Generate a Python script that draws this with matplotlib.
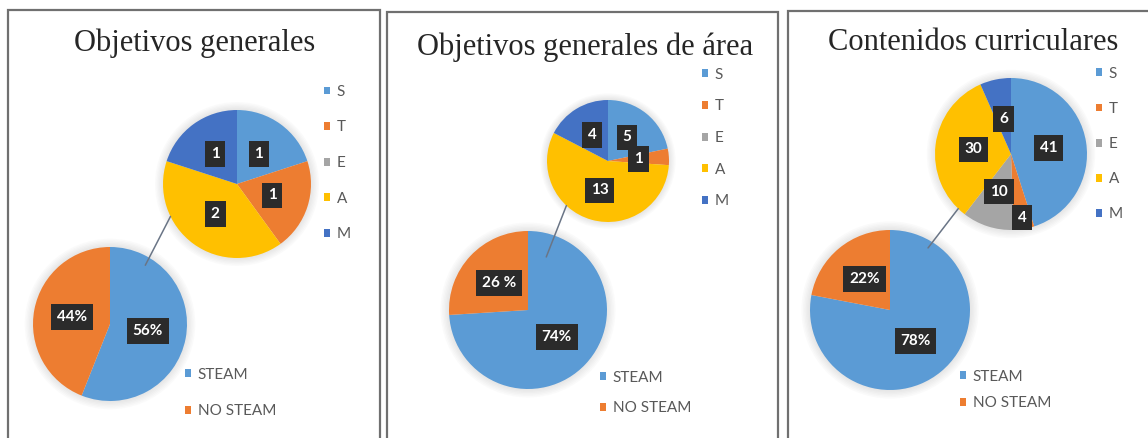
import matplotlib
matplotlib.use('Agg')
import matplotlib.pyplot as plt
from matplotlib.patches import Patch, ConnectionPatch, Circle
import numpy as np

# ---------------- data ----------------
titles = ['Objetivos generales', 'Objetivos generales de área', 'Contenidos curriculares']
area_cats = ['S', 'T', 'E', 'A', 'M']
og_counts = [1, 1, 0, 2, 1]
oga_counts = [5, 1, 0, 13, 4]
cc_counts = [41, 4, 10, 30, 6]
steam_cats = ['STEAM', 'NO STEAM']
og_pct = [56, 44]
oga_pct = [74, 26]
cc_pct = [78, 22]
og_pct_labels = ['56%', '44%']
oga_pct_labels = ['74%', '26 %']
cc_pct_labels = ['78%', '22%']

# ---------------- style ----------------
area_colors = ['#5B9BD5', '#ED7D31', '#A5A5A5', '#FFC000', '#4472C4']
steam_colors = ['#5B9BD5', '#ED7D31']
W, H = 1148, 438

fig = plt.figure(figsize=(W / 100, H / 100), dpi=100)
fig.patch.set_facecolor('white')

bg = fig.add_axes([0, 0, 1, 1], zorder=0)
bg.set_xlim(0, W)
bg.set_ylim(H, 0)
bg.axis('off')

border_col = '#707070'
# panel frames (left, right, top)
for (l, r, t) in [(8, 380, 10), (387, 778, 12), (788, 1160, 11)]:
    bg.plot([l, l, r, r], [H + 5, t, t, H + 5], color=border_col, lw=1.6, solid_joinstyle='miter')


def px_axes(cx, cy, r):
    ax = fig.add_axes([(cx - r) / W, 1 - (cy + r) / H, 2 * r / W, 2 * r / H], zorder=2)
    return ax


def draw_pie(ax, vals, colors, labels, dists):
    # soft halo around the pie
    for k in range(1, 7):
        ax.add_patch(Circle((0, 0), 1 + k * 0.018, fc='#b0b0b0', ec='none',
                            alpha=0.05, clip_on=False, zorder=0))
    wedges, _ = ax.pie(vals, colors=colors, startangle=90, counterclock=False,
                       radius=1, wedgeprops=dict(linewidth=0, zorder=2))
    ax.set_xlim(-1, 1)
    ax.set_ylim(-1, 1)
    ax.set_aspect('equal')
    ax.axis('off')
    for w, lab, d in zip(wedges, labels, dists):
        if not lab:
            continue
        ang = np.deg2rad((w.theta1 + w.theta2) / 2)
        ax.text(d * np.cos(ang), d * np.sin(ang), lab, ha='center', va='center',
                color='white', fontsize=11, fontweight='bold', family='Lato',
                bbox=dict(boxstyle='square,pad=0.38', fc='#2b2b2b', ec='none'),
                clip_on=False, zorder=5)
    return wedges


def legend(names, colors, x_left, y_mid, ls):
    handles = [Patch(facecolor=c, edgecolor='none') for c in colors]
    fig.legend(handles, names, loc='center left',
               bbox_to_anchor=(x_left / W, 1 - y_mid / H), frameon=False,
               prop={'family': 'Lato', 'size': 11}, labelcolor='#595959',
               handlelength=0.42, handleheight=0.42, handletextpad=0.4,
               labelspacing=ls, borderpad=0, borderaxespad=0)


def connector(ax_s, ang_s, d_s, ax_b, ang_b, d_b):
    a1, a2 = np.deg2rad(ang_s), np.deg2rad(ang_b)
    con = ConnectionPatch(xyA=(d_s * np.cos(a1), d_s * np.sin(a1)), coordsA=ax_s.transData,
                          xyB=(d_b * np.cos(a2), d_b * np.sin(a2)), coordsB=ax_b.transData,
                          color='#6a7586', lw=1.1, zorder=6)
    fig.add_artist(con)


panels = [
    dict(title=titles[0], tx=195, ty=51,
         small=(237, 184, 74), counts=og_counts, sdist=[0.5] * 5,
         big=(110, 324, 77), pct=og_pct, plab=og_pct_labels,
         leg_s=(324, 163, 1.41), leg_b=(185, 393, 1.48),
         con=(206, 1.0, 59, 0.89)),
    dict(title=titles[1], tx=585, ty=55,
         small=(608, 161, 61), counts=oga_counts, sdist=[0.5] * 5,
         big=(528, 310, 79), pct=oga_pct, plab=oga_pct_labels,
         leg_s=(702, 138, 1.15), leg_b=(600, 393, 1.08),
         con=(227, 1.0, 71, 0.71)),
    dict(title=titles[2], tx=973, ty=50,
         small=(1011, 154, 76), counts=cc_counts, sdist=[0.5, 0.85, 0.52, 0.5, 0.47],
         big=(890, 310, 80), pct=cc_pct, plab=cc_pct_labels,
         leg_s=(1096, 144, 1.38), leg_b=(960, 390, 0.82),
         con=(226, 1.0, 58.5, 0.91)),
]

for p in panels:
    fig.text(p['tx'] / W, 1 - p['ty'] / H, p['title'], ha='center', va='baseline',
             family='Liberation Serif', fontsize=22, color='#262626')
    ax_s = px_axes(*p['small'])
    labels_s = [str(v) if v > 0 else '' for v in p['counts']]
    draw_pie(ax_s, p['counts'], area_colors, labels_s, p['sdist'])
    ax_b = px_axes(*p['big'])
    draw_pie(ax_b, p['pct'], steam_colors, p['plab'], [0.5, 0.5])
    legend(area_cats, area_colors, *p['leg_s'])
    legend(steam_cats, steam_colors, *p['leg_b'])
    connector(ax_s, p['con'][0], p['con'][1], ax_b, p['con'][2], p['con'][3])

fig.savefig('out.png', dpi=100, facecolor='white')
